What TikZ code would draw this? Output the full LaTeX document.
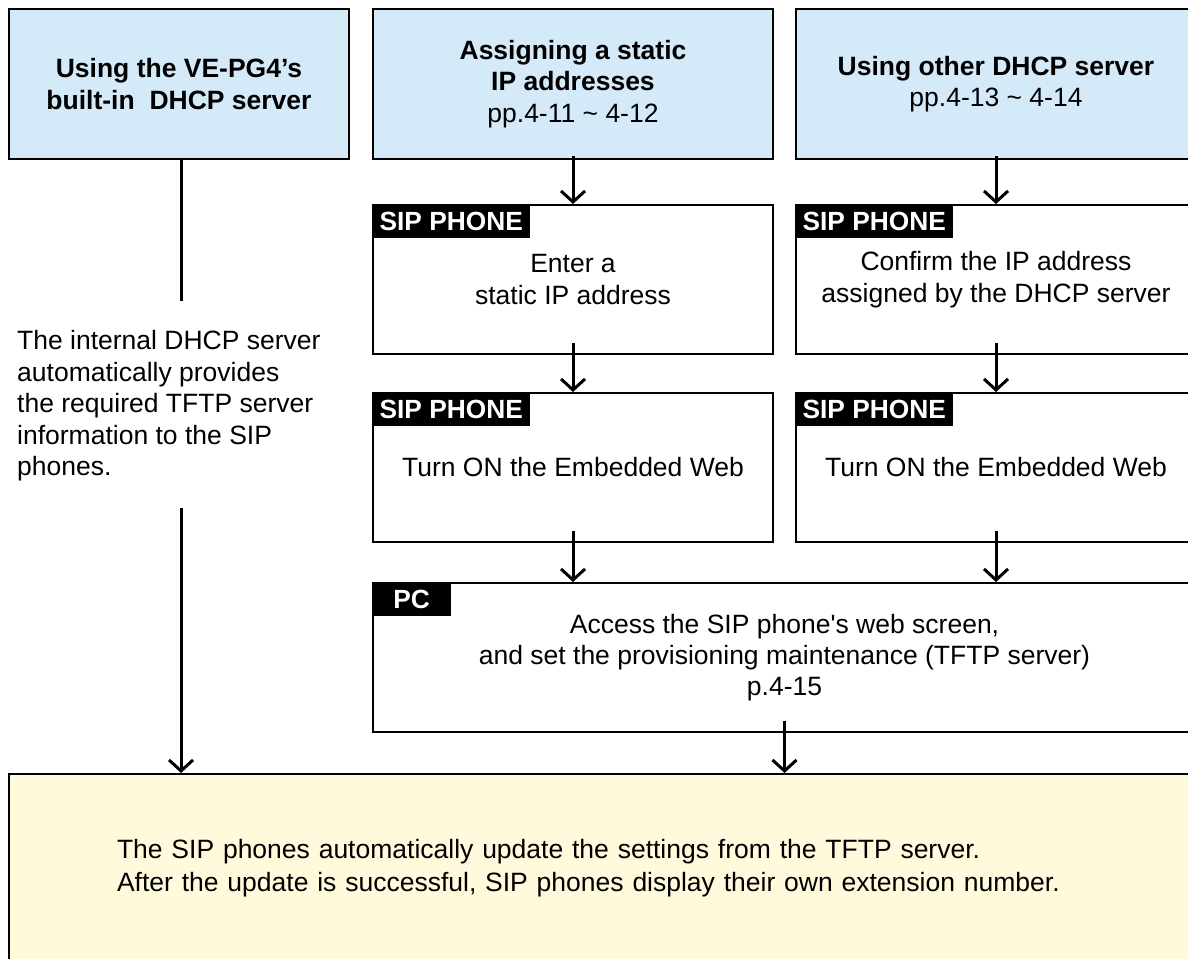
\documentclass[tikz,border=0pt]{standalone}
\usepackage{fontspec}
\setmainfont{Liberation Sans}
\usetikzlibrary{arrows.meta}
\definecolor{hdrblue}{RGB}{213,234,248}
\definecolor{cream}{RGB}{255,250,220}
\begin{document}
\begin{tikzpicture}[x=1pt,y=-1pt,
  bodytext/.style={font=\fontsize{26.5}{31.5}\selectfont},
  hdr/.style={bodytext, draw=black, line width=2pt, fill=hdrblue, minimum height=150pt, inner sep=0pt, align=center},
  stepbox/.style={bodytext, draw=black, line width=2pt, fill=white, minimum width=400pt, minimum height=149pt, inner sep=0pt, align=center},
  tag/.style={fill=black, text=white, font=\fontsize{26.3}{30}\selectfont\bfseries, inner sep=0pt, minimum height=34pt, anchor=north west},
  arr/.style={line width=3pt, -{Straight Barb[length=11pt,width=24pt]}},
  conn/.style={line width=3pt}
]
\useasboundingbox (0,0) rectangle (1188,958);
\clip (0,0) rectangle (1188,958);

% header boxes
\node[hdr, minimum width=340pt, font=\fontsize{26.5}{31.5}\selectfont\bfseries] (b1) at (179,84)
  {Using the VE-PG4’s\\built-in\ \ DHCP server};
\node[hdr, minimum width=400pt] (b2) at (573,84)
  {\textbf{Assigning a static}\\\textbf{IP addresses}\\pp.4-11 \textasciitilde{} 4-12};
\node[hdr, minimum width=400pt] (b3) at (996,84)
  {\textbf{Using other DHCP server}\\pp.4-13 \textasciitilde{} 4-14};

% step boxes
\node[stepbox] (s21) at (573,279.5) {Enter a\\static IP address};
\node[stepbox] (s31) at (996,279.5) {Confirm the IP address\\assigned by the DHCP server};
\node[stepbox] (s22) at (573,467.5) {Turn ON the Embedded Web};
\node[stepbox] (s32) at (996,467.5) {Turn ON the Embedded Web};
\node[stepbox, minimum width=823pt, font=\fontsize{26.5}{31}\selectfont] (pc) at (784.5,657.5)
  {Access the SIP phone\textquotesingle s web screen,\\and set the provisioning maintenance (TFTP server)\\p.4-15};

\node[tag, minimum width=158pt] (t21) at (s21.north west) {SIP PHONE};
\node[tag, minimum width=158pt] (t31) at (s31.north west) {SIP PHONE};
\node[tag, minimum width=158pt] (t22) at (s22.north west) {SIP PHONE};
\node[tag, minimum width=158pt] (t32) at (s32.north west) {SIP PHONE};
\node[tag, minimum width=79pt] (tpc) at (pc.north west) {PC};

% final box
\node[draw=black, line width=2pt, fill=cream, minimum width=1187pt, minimum height=188pt,
      inner xsep=108pt, inner ysep=0pt, text width=971pt, align=left,
      font=\fontsize{26.5}{33}\selectfont] (yel) at (602.5,868)
  {The SIP phones automatically update the settings from the TFTP server.\\After the update is successful, SIP phones display their own extension number.};

% left info text
\node[bodytext, anchor=north west, align=left, inner sep=0pt] (info) at (17,330.5)
  {The internal DHCP server\\automatically provides\\the required TFTP server\\information to the SIP\\phones.};

% connectors
\coordinate (l1) at (181,301);
\coordinate (l2) at (181,508);
\draw[conn] (b1.south -| l1) -- (l1);
\draw[arr] (l2) -- (l2 |- yel.north);

\draw[arr] ([yshift=4pt]b2.south) -- (s21.north);
\draw[arr] ([yshift=4pt]b3.south) -- (s31.north);
\draw[arr] ([yshift=12pt]s21.south) -- (s22.north);
\draw[arr] ([yshift=12pt]s31.south) -- (s32.north);
\draw[arr] ([yshift=12pt]s22.south) -- (s22.south |- pc.north);
\draw[arr] ([yshift=12pt]s32.south) -- (s32.south |- pc.north);
\draw[arr] ([yshift=12pt]pc.south) -- (pc.south |- yel.north);
\end{tikzpicture}
\end{document}
